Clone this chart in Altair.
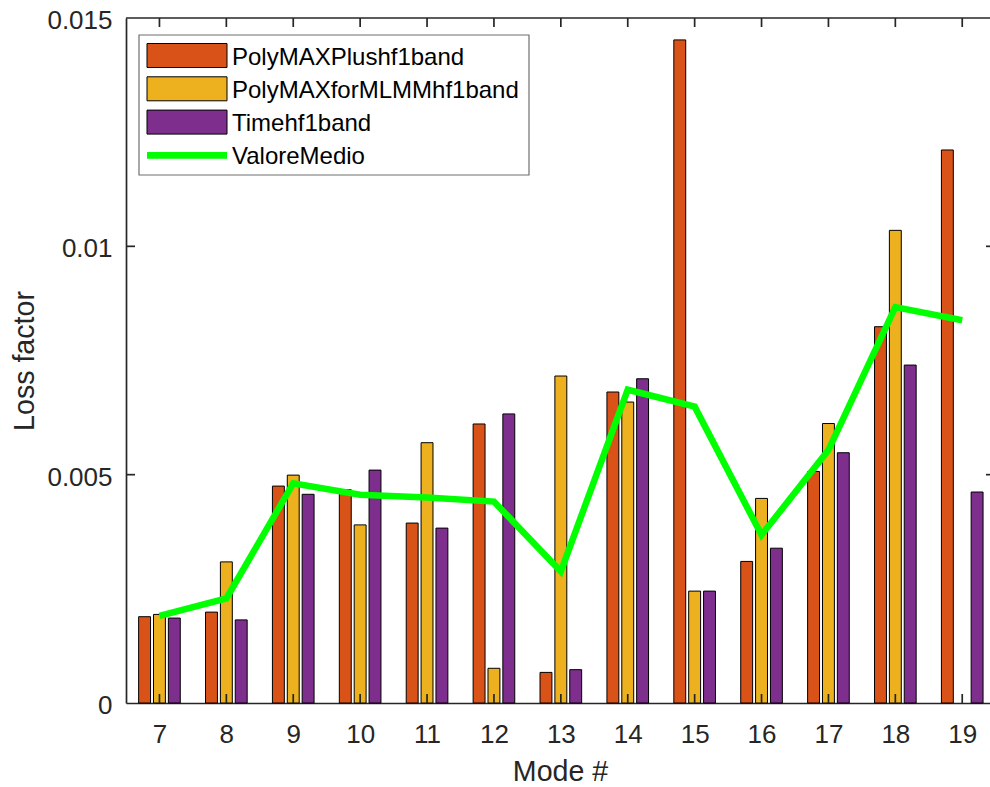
import altair as alt
import pandas as pd

# ---- data -------------------------------------------------------------
modes = list(range(7, 20))
series_names = ["PolyMAXPlushf1band", "PolyMAXforMLMMhf1band", "Timehf1band"]
polymax_plus = [0.00189, 0.00199, 0.00475, 0.00467, 0.00394, 0.00611, 0.00067,
                0.00681, 0.01452, 0.00310, 0.00507, 0.00824, 0.01211]
polymax_mlmm = [0.00194, 0.00309, 0.00499, 0.00390, 0.00570, 0.00076, 0.00716,
                0.00659, 0.00245, 0.00448, 0.00612, 0.01035, None]
time_band = [0.00186, 0.00182, 0.00457, 0.00510, 0.00383, 0.00633, 0.00073,
             0.00710, 0.00245, 0.00339, 0.00548, 0.00740, 0.00462]
mean_name = "ValoreMedio"
valore_medio = [0.00191, 0.00229, 0.00481, 0.00456, 0.00450, 0.00441, 0.00288,
                0.00686, 0.00649, 0.00368, 0.00554, 0.00867, 0.00838]
y_ticks = [0, 0.005, 0.01, 0.015]

bar_colors = ["#D95319", "#EDB120", "#7E2F8E"]
line_color = "#00FF00"

# ---- styling ----------------------------------------------------------
W, H = 864, 685
AX = "#262626"
FONT = "Liberation Sans"
TICK_LEN = 9
AXW = 1.7

rows = []
for k, (name, vals) in enumerate(zip(series_names, [polymax_plus, polymax_mlmm, time_band])):
    for m, v in zip(modes, vals):
        if v is not None:
            rows.append({"mode": m, "series": name, "slot": k - 1, "value": v})
bars_df = pd.DataFrame(rows)
mean_df = pd.DataFrame({"mode": modes, "value": valore_medio})
xtick_df = pd.DataFrame({"mode": modes})
ytick_df = pd.DataFrame({"value": y_ticks[1:-1]})
one = pd.DataFrame({"k": [0]})

x_scale = alt.Scale(domain=[6.5, 19.415], nice=False, zero=False)
y_scale = alt.Scale(domain=[0, 0.015], nice=False, zero=True)

x_axis = alt.Axis(
    values=modes, format="d", grid=False, ticks=False, tickSize=0,
    labelFontSize=26, labelColor=AX, labelPadding=18, labelFont=FONT,
    labelFlush=False, labelOverlap=False,
    domainColor=AX, domainWidth=AXW,
    titleFontSize=28.6, titleFontWeight="normal", titleColor=AX, titleFont=FONT,
    titleX=434, titleY=77, titleBaseline="alphabetic", titleAlign="center",
)
y_axis = alt.Axis(
    values=y_ticks, format="~g", grid=False, ticks=False, tickSize=0,
    labelFontSize=26, labelColor=AX, labelPadding=14, labelFont=FONT,
    labelOffset=2.5, labelOverlap=False, labelFlush=False,
    domainColor=AX, domainWidth=AXW,
    titleFontSize=28.6, titleFontWeight="normal", titleColor=AX, titleFont=FONT,
    titleX=-92.7, titleY=H / 2, titleAngle=270, titleBaseline="alphabetic",
    titleAlign="center",
)

X_TITLE = "Mode #"
Y_TITLE = "Loss factor"

# grouped bars: three slots per mode, each rising from zero
bars = alt.Chart(bars_df).transform_calculate(
    x0="datum.mode + datum.slot * 0.2222 - 0.089",
    x1="datum.mode + datum.slot * 0.2222 + 0.089",
).mark_bar(stroke="black", strokeWidth=1, opacity=1).encode(
    x=alt.X("x0:Q", scale=x_scale, axis=x_axis, title=X_TITLE),
    x2="x1:Q",
    y=alt.Y("value:Q", scale=y_scale, axis=y_axis, title=Y_TITLE),
    y2=alt.datum(0),
    color=alt.Color("series:N", scale=alt.Scale(domain=series_names, range=bar_colors), legend=None),
)

# mean line across modes
mean_line = alt.Chart(mean_df).mark_line(
    color=line_color, strokeWidth=6.5, strokeJoin="miter", strokeCap="butt"
).encode(
    x=alt.X("mode:Q", scale=x_scale, title=X_TITLE),
    y=alt.Y("value:Q", scale=y_scale, title=Y_TITLE),
)

# inward ticks on all four sides, plus the top border
bottom_ticks = alt.Chart(xtick_df).mark_rule(color=AX, strokeWidth=AXW).encode(
    x=alt.X("mode:Q", scale=x_scale, title=X_TITLE),
    y=alt.value(H), y2=alt.value(H - TICK_LEN),
)
top_ticks = alt.Chart(xtick_df).mark_rule(color=AX, strokeWidth=AXW).encode(
    x=alt.X("mode:Q", scale=x_scale, title=X_TITLE),
    y=alt.value(0), y2=alt.value(TICK_LEN),
)
left_ticks = alt.Chart(ytick_df).mark_rule(color=AX, strokeWidth=AXW).encode(
    y=alt.Y("value:Q", scale=y_scale, title=Y_TITLE),
    x=alt.value(0), x2=alt.value(TICK_LEN),
)
right_ticks = alt.Chart(ytick_df).mark_rule(color=AX, strokeWidth=AXW).encode(
    y=alt.Y("value:Q", scale=y_scale, title=Y_TITLE),
    x=alt.value(W - 4), x2=alt.value(W),
)
top_border = alt.Chart(one).mark_rule(color=AX, strokeWidth=AXW).encode(
    x=alt.value(0), x2=alt.value(W), y=alt.value(0),
)

# legend box in the upper-left corner
legend_layers = [
    alt.Chart(one).mark_rect(fill="white", stroke="#6f6f6f", strokeWidth=1.2).encode(
        x=alt.value(13), x2=alt.value(403), y=alt.value(17), y2=alt.value(157)
    )
]
row_c = [37.5, 70.8, 104.1, 137.4]
for i, (name, col) in enumerate(zip(series_names, bar_colors)):
    legend_layers.append(
        alt.Chart(one).mark_rect(fill=col, stroke="black", strokeWidth=1).encode(
            x=alt.value(21), x2=alt.value(101),
            y=alt.value(row_c[i] - 12), y2=alt.value(row_c[i] + 12),
        )
    )
legend_layers.append(
    alt.Chart(one).mark_rule(color=line_color, strokeWidth=6.7, strokeCap="butt").encode(
        x=alt.value(21), x2=alt.value(101), y=alt.value(row_c[3]),
    )
)
for i, name in enumerate(series_names + [mean_name]):
    legend_layers.append(
        alt.Chart(pd.DataFrame({"label": [name]})).mark_text(
            align="left", baseline="alphabetic", fontSize=24, font=FONT, color="black"
        ).encode(
            x=alt.value(106), y=alt.value(row_c[i] + 9), text="label:N",
        )
    )

chart = alt.layer(
    bars, bottom_ticks, top_ticks, left_ticks, right_ticks, top_border, mean_line,
    *legend_layers,
).properties(
    width=W, height=H,
    autosize=alt.AutoSizeParams(type="none"),
    padding={"left": 126, "top": 18, "right": 0, "bottom": 84},
    background="white",
).configure_view(strokeWidth=0)

chart.save("out.html", embed_options={"renderer": "svg", "actions": False})
